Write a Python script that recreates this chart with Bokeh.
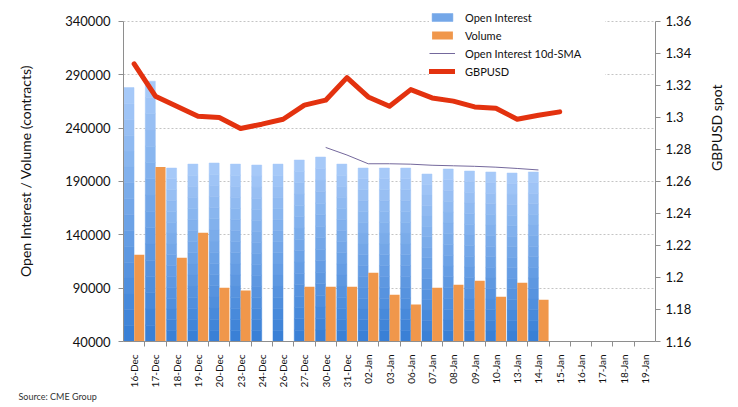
import math
import numpy as np
from bokeh.plotting import figure
from bokeh.models import (ColumnDataSource, FactorRange, Range1d, LinearAxis, CategoricalAxis,
                          FixedTicker, PrintfTickFormatter, Legend, LegendItem, Title)
from bokeh.transform import dodge
from bokeh.embed import file_html
from bokeh.resources import INLINE

# Data ########################################################################

dates = ["16-Dec", "17-Dec", "18-Dec", "19-Dec", "20-Dec", "23-Dec", "24-Dec", "26-Dec",
         "27-Dec", "30-Dec", "31-Dec", "02-Jan", "03-Jan", "06-Jan", "07-Jan", "08-Jan",
         "09-Jan", "10-Jan", "13-Jan", "14-Jan", "15-Jan", "16-Jan", "17-Jan", "18-Jan", "19-Jan"]

# open interest and volume, 16-Dec .. 14-Jan (contracts)
open_interest = [278000, 284000, 202600, 206300, 207300, 206300, 205400, 206300, 210100, 212900,
                 206300, 202600, 202600, 202600, 197000, 201700, 199800, 198900, 197900, 198900]
volume = [121300, 203600, 118500, 141900, 90400, 87900, np.nan, np.nan, 91400, 91400,
          91400, 104500, 83900, 74600, 90400, 93300, 97000, 82000, 95100, 79200]

# 10 day SMA of open interest, 30-Dec .. 14-Jan
sma_dates = dates[9:20]
oi_sma = [221900, 214800, 206600, 206600, 206200, 205200, 204700, 204200, 203400, 202200, 200800]

# GBPUSD spot, 16-Dec .. 15-Jan
fx_dates = dates[:21]
gbpusd = [1.3335, 1.3133, 1.3070, 1.3008, 1.3000, 1.2931, 1.2958, 1.2989, 1.3077, 1.3108,
          1.3249, 1.3128, 1.3070, 1.3174, 1.3122, 1.3102, 1.3066, 1.3058, 1.2989, 1.3014, 1.3035]

left_ticks = [40000, 90000, 140000, 190000, 240000, 290000, 340000]
right_ticks = [1.16, 1.18, 1.2, 1.22, 1.24, 1.26, 1.28, 1.3, 1.32, 1.34, 1.36]

# Plot ########################################################################

font = "Lato"
axis_grey = "#8e8e8e"
y_lo, y_hi = 40000, 340000
fx_lo, fx_hi = 1.16, 1.36

# the frame reaches the top of the canvas so the legend can sit above the
# 340000 line without being clipped; the axes are bounded to the real span
plot_px, top_px = 321, 21
y_top = y_hi + (y_hi - y_lo) * top_px / plot_px
fx_top = fx_hi + (fx_hi - fx_lo) * top_px / plot_px

p = figure(x_range=FactorRange(*dates), y_range=Range1d(y_lo, y_top),
           width=738, height=403, output_backend="svg", toolbar_location=None,
           x_axis_location=None, y_axis_location=None,
           min_border_left=123, min_border_right=83, min_border_top=0, min_border_bottom=61)
p.outline_line_color = None
p.xgrid.grid_line_color = None
p.ygrid.ticker = FixedTicker(ticks=left_ticks)
p.ygrid.grid_line_color = "#c4c4c4"
p.ygrid.grid_line_dash = "2 2"
p.extra_y_ranges = {"fx": Range1d(fx_lo, fx_top)}
# one factor per category boundary, shifted half a step so ticks fall between dates
boundary_names = ["b%d" % i for i in range(len(dates) + 1)]
p.extra_x_ranges = {"bounds": FactorRange(*boundary_names, range_padding=-0.5,
                                          range_padding_units="absolute")}

# open interest bars with a bottom-to-top gradient, drawn as stacked bands
n_bands = 16
dark = np.array([0x3a, 0x80, 0xd6])
light = np.array([0xa6, 0xc9, 0xf8])
oi = np.array(open_interest, dtype=float)
oi_renderers = []
for k in range(n_bands):
    c = dark + (light - dark) * k / (n_bands - 1)
    colour = "#%02x%02x%02x" % tuple(int(round(v)) for v in c)
    src = ColumnDataSource(dict(x=dates[:20],
                                bottom=y_lo + (oi - y_lo) * k / n_bands,
                                top=y_lo + (oi - y_lo) * (k + 1) / n_bands))
    r = p.vbar(x=dodge("x", -0.24, range=p.x_range), bottom="bottom", top="top", width=0.47,
               source=src, fill_color=colour, line_color=colour, line_width=0.5)
    oi_renderers.append(r)

vol_src = ColumnDataSource(dict(x=dates[:20], top=volume))
vol = p.vbar(x=dodge("x", 0.24, range=p.x_range), bottom=y_lo, top="top", width=0.47,
             source=vol_src, fill_color="#f0974b", line_color=None)

sma = p.line(sma_dates, oi_sma, line_color="#74689c", line_width=1)

fx = p.line(fx_dates, gbpusd, y_range_name="fx", line_color="#e3320f", line_width=5,
            line_join="round", line_cap="round")

# axes
left = LinearAxis(ticker=FixedTicker(ticks=left_ticks), bounds=(y_lo, y_hi),
                  axis_label="Open Interest / Volume (contracts)")
left.formatter.use_scientific = False
right = LinearAxis(y_range_name="fx", ticker=FixedTicker(ticks=right_ticks), bounds=(fx_lo, fx_hi),
                   formatter=PrintfTickFormatter(format="%g"), axis_label="GBPUSD spot")
for ax in (left, right):
    ax.axis_line_color = axis_grey
    ax.major_tick_line_color = axis_grey
    ax.minor_tick_line_color = None
    ax.major_tick_in = 0
    ax.major_tick_out = 5
    ax.major_label_text_font = font
    ax.major_label_text_font_size = "13px"
    ax.major_label_text_color = "#111111"
    ax.axis_label_text_font = font
    ax.axis_label_text_font_size = "14px"
    ax.axis_label_text_font_style = "normal"
    ax.axis_label_text_color = "#111111"
left.major_label_standoff = 8
left.axis_label_standoff = 28
right.major_label_standoff = 5
right.axis_label_standoff = 22
right.axis_label_orientation = math.pi / 2
p.add_layout(left, "left")
p.add_layout(right, "right")

# category boundary ticks, then the date labels under them
bounds = CategoricalAxis(x_range_name="bounds")
bounds.axis_line_color = axis_grey
bounds.major_tick_line_color = axis_grey
bounds.major_tick_in = 0
bounds.major_tick_out = 5
bounds.major_label_text_font_size = "1px"
bounds.major_label_text_color = None
bounds.major_label_standoff = 0
p.add_layout(bounds, "below")

cats = CategoricalAxis()
cats.axis_line_color = None
cats.major_tick_line_color = None
cats.major_label_orientation = math.pi / 2
cats.major_label_standoff = 2
cats.major_label_text_font = font
cats.major_label_text_font_size = "10px"
cats.major_label_text_color = "#111111"
p.add_layout(cats, "below")

source_note = Title(text="Source: CME Group", align="left", offset=-105, standoff=0,
                    vertical_align="top", text_font=font, text_font_size="9px",
                    text_font_style="normal", text_color="#333333")
p.add_layout(source_note, "below")

legend = Legend(items=[LegendItem(label="Open Interest", renderers=[oi_renderers[8]]),
                       LegendItem(label="Volume", renderers=[vol]),
                       LegendItem(label="Open Interest 10d-SMA", renderers=[sma]),
                       LegendItem(label="GBPUSD", renderers=[fx])],
                location=(306, 263))
legend.border_line_color = None
legend.background_fill_color = "white"
legend.background_fill_alpha = 1
legend.padding = 2
legend.spacing = 4
legend.glyph_width = 26
legend.glyph_height = 10
legend.label_height = 14
legend.label_standoff = 10
legend.label_width = 140
legend.label_text_font = font
legend.label_text_font_size = "11px"
legend.label_text_color = "#111111"
p.add_layout(legend, "center")

open("out.html", "w").write(file_html(p, INLINE))
